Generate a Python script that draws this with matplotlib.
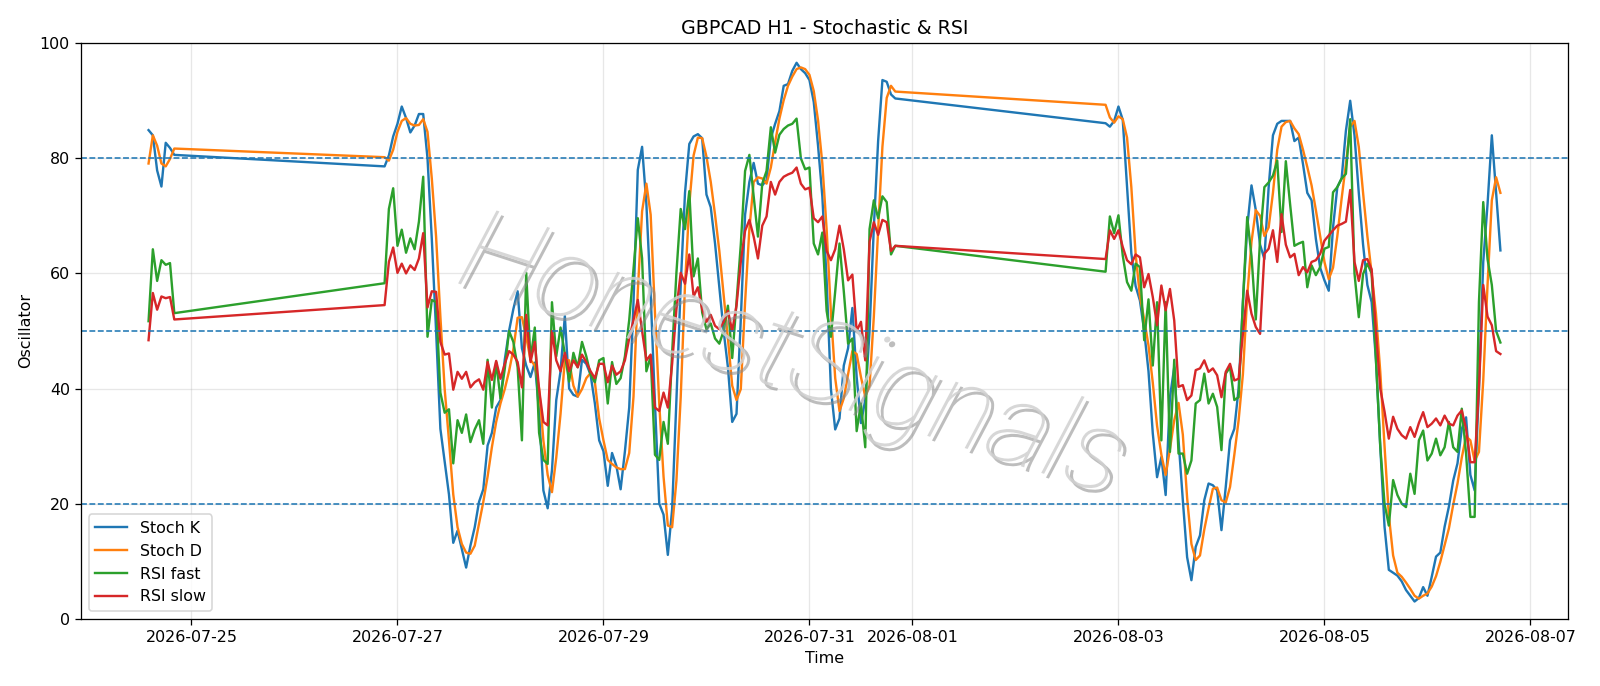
import matplotlib
matplotlib.use("Agg")
from matplotlib import pyplot as plt
import matplotlib.patheffects as pe
import numpy as np
import pandas as pd

# hourly bars, three trading blocks (weekend gaps are simply joined by the line)
times = pd.DatetimeIndex(
    list(pd.date_range("2026-07-24 14:00", "2026-07-24 20:00", freq="h"))
    + list(pd.date_range("2026-07-26 21:00", "2026-07-31 20:00", freq="h"))
    + list(pd.date_range("2026-08-02 21:00", "2026-08-06 17:00", freq="h"))
)

stoch_k_a = [84.9, 84.0, 77.9, 75.1, 82.7, 81.8, 80.6]
stoch_d_a = [79.1, 84.0, 82.2, 79.1, 78.6, 79.9, 81.7]
rsi_fast_a = [51.7, 64.2, 58.7, 62.3, 61.5, 61.8, 53.1]
rsi_slow_a = [48.4, 56.6, 53.7, 56.0, 55.7, 55.9, 52.0]

stoch_k_b = [78.6, 80.5, 83.8, 86.0, 89.0, 87.0, 84.5, 85.7, 87.7, 87.7,
             80.0, 66.0, 50.0, 33.0, 27.3, 21.6, 13.2, 15.3, 12.1, 8.9,
             12.7, 15.9, 20.3, 22.5, 30.1, 32.3, 36.7, 38.0, 45.0, 50.0,
             53.8, 56.9, 47.0, 44.0, 42.0, 44.5, 36.0, 22.3, 19.2, 25.8,
             38.0, 43.0, 52.6, 40.0, 38.9, 38.6, 45.0, 44.3, 42.4, 37.4,
             31.0, 29.1, 23.1, 28.8, 26.6, 22.5, 29.1, 36.7, 55.0, 78.0,
             82.0, 72.1, 56.3, 37.4, 20.0, 18.1, 11.1, 19.0, 38.0, 58.0,
             74.0, 82.5, 83.8, 84.2, 83.5, 73.7, 71.5, 65.2, 57.6, 50.0,
             43.7, 34.2, 35.6, 52.0, 70.2, 75.9, 79.2, 75.6, 75.3, 76.2,
             83.5, 86.0, 88.2, 92.6, 92.9, 95.2, 96.6, 95.5, 94.8, 93.6,
             89.8, 82.2, 73.4, 58.8, 39.9, 32.9, 34.8, 44.0, 47.0, 54.0,
             42.0, 34.0, 38.0, 50.0, 68.0, 83.0, 93.6, 93.3, 91.1, 90.4]
stoch_d_b = [80.2, 79.6, 81.5, 84.6, 86.5, 87.0, 86.0, 85.7, 85.8, 86.8,
             84.6, 76.5, 66.4, 52.5, 39.9, 31.0, 21.6, 15.9, 13.0, 11.5,
             11.3, 12.7, 16.5, 20.3, 24.7, 29.8, 34.2, 37.4, 39.9, 43.0,
             46.8, 52.3, 52.4, 49.0, 45.0, 44.0, 40.0, 31.0, 25.0, 22.0,
             28.0, 35.6, 45.0, 44.9, 40.5, 38.6, 39.9, 41.8, 42.7, 41.1,
             34.8, 31.0, 27.6, 26.9, 26.3, 26.0, 26.0, 28.8, 38.6, 56.9,
             70.8, 75.6, 70.2, 53.2, 37.4, 24.7, 16.2, 15.9, 24.0, 38.5,
             58.0, 72.0, 80.5, 83.6, 83.5, 80.3, 75.9, 70.2, 63.9, 56.3,
             48.7, 40.5, 38.0, 39.9, 55.0, 67.7, 75.9, 76.7, 76.5, 75.6,
             78.4, 82.8, 86.9, 90.1, 92.6, 94.2, 95.5, 95.8, 95.5, 94.5,
             91.7, 86.6, 79.1, 67.7, 53.2, 41.8, 36.1, 38.3, 42.5, 46.5,
             46.0, 42.0, 38.6, 40.5, 52.5, 67.5, 82.0, 90.5, 92.6, 91.6]
rsi_fast_b = [58.3, 71.2, 74.8, 64.8, 67.6, 63.6, 66.1, 64.2, 69.0, 76.8,
              49.0, 55.4, 55.0, 39.3, 35.8, 36.4, 27.0, 34.5, 32.3, 35.5,
              30.7, 32.9, 34.5, 30.4, 45.0, 36.7, 44.6, 38.3, 43.4, 50.0,
              48.1, 43.7, 31.0, 60.1, 45.0, 50.6, 32.3, 27.6, 26.9, 55.0,
              45.6, 50.6, 46.0, 41.2, 46.2, 43.7, 48.1, 45.6, 42.4, 41.1,
              44.9, 45.3, 37.4, 44.6, 40.8, 41.8, 45.6, 51.9, 60.7, 69.6,
              62.6, 43.0, 45.6, 28.5, 27.6, 34.2, 30.4, 46.2, 60.1, 71.2,
              67.7, 74.3, 59.5, 62.6, 53.2, 50.3, 51.3, 48.7, 47.8, 50.0,
              54.4, 45.3, 55.0, 65.0, 77.8, 80.6, 73.4, 66.4, 75.6, 77.8,
              85.4, 81.0, 84.1, 85.1, 85.7, 86.0, 86.9, 80.0, 78.1, 78.4,
              65.2, 63.3, 67.1, 53.5, 49.0, 56.9, 65.2, 56.9, 47.8, 48.7,
              32.6, 37.4, 29.8, 67.7, 72.7, 69.6, 73.4, 72.4, 63.3, 64.8]
rsi_slow_b = [54.5, 62.0, 64.5, 60.1, 61.7, 60.0, 61.4, 60.6, 62.6, 67.0,
              54.1, 56.9, 56.8, 48.1, 45.9, 46.1, 39.8, 42.9, 41.7, 42.9,
              40.2, 41.1, 41.6, 39.8, 44.6, 41.5, 44.8, 41.7, 44.3, 46.5,
              45.9, 44.6, 40.2, 52.8, 44.6, 48.1, 39.9, 34.2, 33.6, 50.0,
              44.9, 43.0, 46.2, 43.0, 44.9, 43.7, 45.9, 44.6, 43.0, 41.8,
              44.3, 44.3, 41.1, 44.0, 42.4, 43.0, 44.9, 48.7, 51.9, 55.4,
              50.0, 44.9, 45.9, 36.7, 36.1, 39.3, 36.7, 44.3, 53.8, 60.1,
              58.2, 63.3, 56.0, 57.6, 53.8, 51.6, 52.8, 50.9, 50.3, 51.6,
              53.5, 50.0, 54.4, 62.0, 67.4, 69.3, 66.4, 62.6, 68.3, 69.9,
              75.9, 73.7, 75.9, 76.8, 77.2, 77.5, 78.4, 75.6, 74.6, 74.9,
              69.6, 68.9, 69.9, 63.9, 62.3, 64.2, 68.3, 64.2, 58.8, 59.8,
              50.0, 51.6, 44.9, 65.5, 68.9, 66.7, 69.3, 68.9, 63.9, 64.8]

stoch_k_c = [86.1, 85.5, 86.5, 89.0, 86.7, 75.0, 63.5, 57.8, 55.3, 50.0,
             43.0, 32.2, 24.6, 28.1, 21.5, 38.5, 43.7, 31.0, 20.6, 10.7,
             6.7, 12.5, 14.5, 20.6, 23.5, 23.2, 22.3, 15.4, 22.9, 31.0,
             33.0, 40.0, 55.0, 68.0, 75.3, 71.0, 65.0, 62.5, 75.0, 84.0,
             86.0, 86.5, 86.5, 86.5, 83.0, 83.6, 79.0, 74.0, 72.7, 66.0,
             61.0, 58.8, 57.0, 68.0, 75.0, 76.5, 84.8, 90.0, 84.0, 74.0,
             65.0, 58.0, 55.0, 45.0, 30.0, 16.0, 8.5, 8.0, 7.5, 6.5,
             5.0, 4.0, 3.0, 3.6, 5.5, 4.0, 7.3, 10.8, 11.5, 16.0,
             19.5, 24.0, 27.0, 33.0, 35.0, 25.0, 22.3, 40.0, 62.0, 72.0,
             84.0, 74.0, 64.0]
stoch_d_c = [89.3, 87.1, 86.2, 87.3, 86.8, 83.6, 75.0, 63.4, 56.0, 52.0,
             47.5, 41.0, 33.5, 28.5, 25.0, 29.5, 34.5, 37.5, 32.0, 21.0,
             13.0, 10.2, 11.0, 15.5, 19.2, 22.6, 22.8, 20.6, 20.2, 22.9,
             28.5, 34.5, 42.5, 56.0, 65.5, 71.0, 70.0, 66.5, 68.0, 74.0,
             81.5, 85.5, 86.3, 86.5, 85.2, 84.2, 81.5, 78.5, 75.3, 71.0,
             66.5, 62.0, 59.0, 61.0, 66.5, 73.0, 79.0, 85.5, 86.5, 82.0,
             74.0, 66.5, 60.0, 53.0, 43.0, 30.0, 18.0, 11.0, 8.0, 7.3,
             6.3, 5.2, 4.0, 3.5, 4.0, 4.4, 5.6, 7.4, 9.9, 12.8,
             15.7, 19.8, 23.5, 28.0, 31.7, 31.0, 27.4, 29.0, 41.4, 58.0,
             72.7, 76.7, 74.0]
rsi_fast_c = [60.3, 69.9, 67.0, 70.1, 63.1, 58.5, 57.0, 61.7, 61.1, 48.4,
              55.5, 44.0, 55.0, 31.0, 55.0, 29.0, 45.0, 28.7, 28.7, 25.2,
              27.5, 37.4, 38.0, 42.6, 37.4, 39.1, 36.8, 29.3, 42.6, 43.7,
              38.0, 38.5, 55.0, 69.8, 63.0, 52.0, 66.0, 75.0, 75.8, 77.0,
              79.6, 67.2, 79.5, 72.0, 64.8, 65.2, 65.5, 57.6, 61.4, 59.7,
              61.1, 64.3, 64.6, 74.1, 75.0, 76.5, 77.3, 86.8, 60.0, 52.4,
              59.9, 61.7, 60.0, 45.0, 30.0, 20.0, 16.2, 24.1, 21.5, 20.0,
              19.4, 25.2, 21.7, 31.0, 32.7, 27.5, 28.7, 31.3, 28.4, 29.8,
              34.2, 29.8, 29.0, 36.5, 28.7, 17.7, 17.7, 55.0, 72.4, 62.5,
              58.0, 50.0, 48.0]
rsi_slow_c = [62.5, 67.5, 66.0, 67.5, 64.6, 62.3, 61.6, 63.3, 62.8, 57.6,
              59.9, 55.9, 51.0, 57.9, 53.6, 57.3, 51.8, 40.3, 40.6, 38.0,
              38.8, 43.2, 43.5, 44.9, 42.9, 43.5, 42.3, 38.5, 42.9, 44.3,
              41.4, 41.7, 49.5, 57.0, 53.0, 50.7, 49.5, 63.4, 64.3, 67.5,
              62.0, 70.3, 65.0, 62.8, 63.4, 59.7, 61.1, 60.2, 62.0, 62.3,
              63.4, 65.7, 66.6, 67.5, 68.3, 68.6, 69.0, 74.5, 62.0, 58.7,
              62.3, 62.5, 60.7, 50.0, 40.0, 36.0, 31.3, 35.1, 33.0, 31.9,
              31.3, 33.3, 31.6, 34.0, 35.9, 33.3, 33.9, 34.8, 33.6, 35.3,
              33.9, 33.6, 35.3, 36.2, 33.0, 27.2, 27.2, 40.0, 58.0, 52.5,
              51.0, 46.5, 46.0]

stoch_k = stoch_k_a + stoch_k_b + stoch_k_c
stoch_d = stoch_d_a + stoch_d_b + stoch_d_c
rsi_fast = rsi_fast_a + rsi_fast_b + rsi_fast_c
rsi_slow = rsi_slow_a + rsi_slow_b + rsi_slow_c

levels = [80, 50, 20]

fig = plt.figure(figsize=(14, 6.0025), dpi=1600 / 14)
ax = fig.add_subplot(111)
ax.plot(times, stoch_k, label="Stoch K")
ax.plot(times, stoch_d, label="Stoch D")
ax.plot(times, rsi_fast, label="RSI fast")
ax.plot(times, rsi_slow, label="RSI slow")
for lvl in levels:
    ax.axhline(lvl, color="tab:blue", linestyle="--", linewidth=1.0)
ax.set_ylim(0, 100)
ax.grid(True, alpha=0.3)
ax.set_title("GBPCAD H1 - Stochastic & RSI")
ax.set_xlabel("Time")
ax.set_ylabel("Oscillator")
ax.legend(loc="lower left")

# watermark (thin italic, grey with a soft shadow)
ax.text(0.478, 0.45, "HonestSignals", transform=ax.transAxes, fontsize=72,
        family="Roboto", style="italic", fontweight="light", color="#d0d0d0", alpha=0.85,
        rotation=-18, ha="center", va="center", zorder=10,
        path_effects=[pe.withSimplePatchShadow(offset=(3, -3), shadow_rgbFace="#888888", alpha=0.55)])

plt.subplots_adjust(left=0.0506, right=0.98, top=0.937, bottom=0.098)
fig.savefig("out.png")
